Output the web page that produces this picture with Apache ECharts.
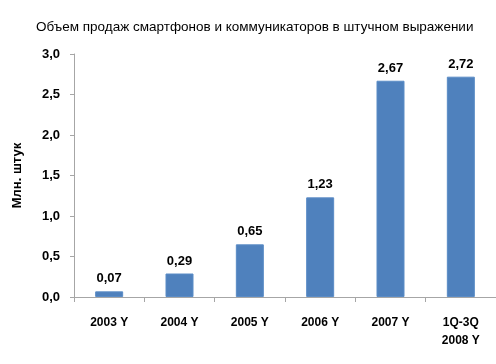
<!DOCTYPE html>
<html>
<head>
<meta charset="utf-8">
<script src="https://cdn.jsdelivr.net/npm/echarts@6/dist/echarts.min.js"></script>
<style>html,body{margin:0;padding:0;background:#fff}#c{width:496px;height:364px}</style>
</head>
<body>
<div id="c"></div>
<script>
var titleText = 'Объем продаж смартфонов и коммуникаторов в штучном выражении';
var yAxisName = 'Млн. штук';
var categories = ['2003 Y', '2004 Y', '2005 Y', '2006 Y', '2007 Y', '1Q-3Q\n2008 Y'];
var values = [0.07, 0.29, 0.65, 1.23, 2.67, 2.72];
var yTicks = [0, 0.5, 1.0, 1.5, 2.0, 2.5, 3.0];

function fmt(v, d) { return v.toFixed(d).replace('.', ','); }

var chart = echarts.init(document.getElementById('c'), null, {renderer: 'canvas'});
var font = 'Liberation Sans, Arial, sans-serif';
chart.setOption({
  animation: false,
  textStyle: {fontFamily: font},
  title: {
    text: titleText, left: 31, top: 15,
    textStyle: {fontSize: 13.5, fontWeight: 'normal', color: '#000', fontFamily: font}
  },
  grid: {left: 74, right: 0, top: 54, bottom: 67, containLabel: false},
  xAxis: {
    type: 'category', data: categories,
    axisLine: {lineStyle: {color: '#a6a6a6'}},
    axisTick: {show: true, length: 5, alignWithLabel: false, lineStyle: {color: '#a6a6a6'}},
    axisLabel: {fontSize: 12, fontWeight: 'bold', color: '#000', margin: 17, lineHeight: 18}
  },
  yAxis: {
    type: 'value', min: yTicks[0], max: yTicks[yTicks.length - 1], interval: 0.5,
    name: yAxisName, nameLocation: 'middle', nameGap: 50, nameRotate: 90,
    nameTextStyle: {fontSize: 13, fontWeight: 'bold', color: '#000'},
    axisLine: {show: true, lineStyle: {color: '#a6a6a6'}},
    axisTick: {show: true, length: 4, lineStyle: {color: '#a6a6a6'}},
    splitLine: {show: false},
    axisLabel: {fontSize: 13, fontWeight: 'bold', color: '#000', margin: 14,
      formatter: function (v) { return fmt(v, 1); }}
  },
  series: [{
    type: 'bar', data: values, barWidth: 28,
    itemStyle: {color: '#4f81bd', borderColor: '#5b8cc6', borderWidth: 1},
    label: {show: true, position: 'top', distance: 6, fontSize: 13, fontWeight: 'bold', color: '#000',
      formatter: function (p) { return fmt(p.value, 2); }}
  }]
});
</script>
</body>
</html>
